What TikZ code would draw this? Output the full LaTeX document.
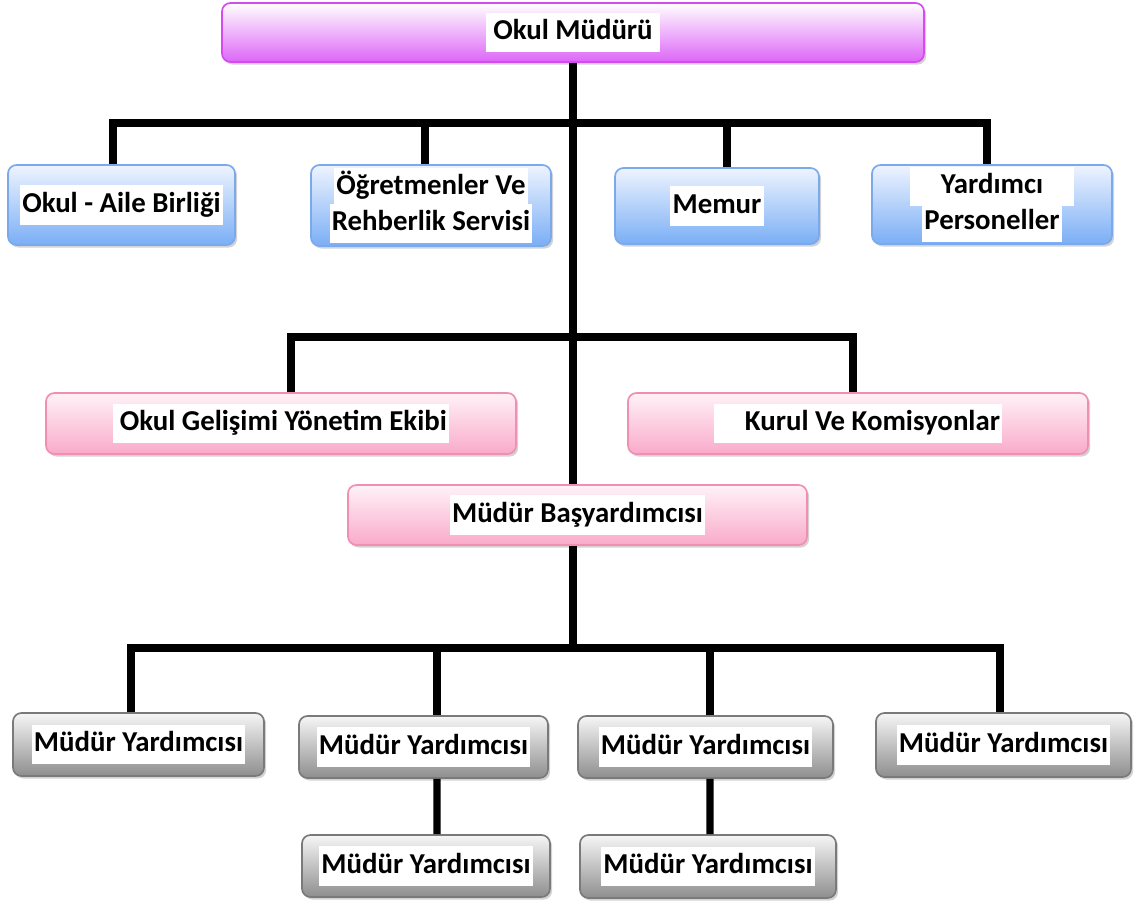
\documentclass[tikz,border=0pt]{standalone}
\usepackage{fontspec}
\setmainfont{Carlito}
\usetikzlibrary{shadows}
\definecolor{magfill}{HTML}{DD66F7}
\definecolor{magbd}{HTML}{D54BF0}
\definecolor{bluefill}{HTML}{7AAEF5}
\definecolor{bluetop}{HTML}{EEF4FF}
\definecolor{bluebd}{HTML}{7AA9EC}
\definecolor{pinkfill}{HTML}{F9AACA}
\definecolor{pinktop}{HTML}{FFF2F7}
\definecolor{pinkbd}{HTML}{F08FB2}
\definecolor{grayfill}{HTML}{8E8E8E}
\definecolor{graytop}{HTML}{F6F6F6}
\definecolor{graybd}{HTML}{7A7A7A}
\newcommand\wb[1]{{\setlength\fboxsep{1.5pt}\colorbox{white}{\strut #1}}}
\tikzset{
  base/.style={rounded corners=6pt, line width=1.2pt, align=center,
    font=\bfseries\fontsize{20.5}{25}\selectfont, inner sep=0pt,
    drop shadow={shadow xshift=1.5pt,shadow yshift=-1.8pt,opacity=0.35}},
  magbox/.style={base, draw=magbd, top color=white, bottom color=magfill},
  bluebox/.style={base, draw=bluebd, top color=bluetop, bottom color=bluefill},
  pinkbox/.style={base, draw=pinkbd, top color=pinktop, bottom color=pinkfill},
  graybox/.style={base, draw=graybd, top color=graytop, bottom color=grayfill},
  conn/.style={line width=5pt, black, line join=miter}
}
\begin{document}
\begin{tikzpicture}[x=0.025cm,y=-0.025cm]
\useasboundingbox (0,0) rectangle (1134,904);
% nodes
\node[magbox, minimum width={702*0.025cm}, minimum height={59*0.025cm}] (mudur) at (573,32.5) {\wb{\,Okul Müdürü\,}};
\node[bluebox, minimum width={227*0.025cm}, minimum height={80*0.025cm}] (oab) at (121.5,205) {\wb{Okul - Aile Birliği}};
\node[bluebox, minimum width={240*0.025cm}, minimum height={81*0.025cm}] (ors) at (431,205.5) {\wb{Öğretmenler Ve}\\[-3pt]\wb{Rehberlik Servisi}};
\node[bluebox, minimum width={204*0.025cm}, minimum height={76*0.025cm}] (memur) at (717,206) {\wb{Memur}};
\node[bluebox, minimum width={240*0.025cm}, minimum height={79*0.025cm}] (yp) at (992,204.5) {\wb{\quad Yardımcı\quad}\\[-3pt]\wb{Personeller}};
\node[pinkbox, minimum width={470*0.025cm}, minimum height={61*0.025cm}] (ogye) at (281,423.5) {\wb{\,Okul Gelişimi Yönetim Ekibi}};
\node[pinkbox, minimum width={460*0.025cm}, minimum height={61*0.025cm}] (kvk) at (858,423.5) {\wb{\quad Kurul Ve Komisyonlar}};
\node[pinkbox, minimum width={459*0.025cm}, minimum height={60*0.025cm}] (bas) at (577.5,515) {\wb{Müdür Başyardımcısı}};
\node[graybox, minimum width={251*0.025cm}, minimum height={63*0.025cm}] (my1) at (138.5,744.5) {\wb{Müdür Yardımcısı}};
\node[graybox, minimum width={249*0.025cm}, minimum height={62*0.025cm}] (my2) at (423.5,747) {\wb{Müdür Yardımcısı}};
\node[graybox, minimum width={255*0.025cm}, minimum height={62*0.025cm}] (my3) at (705.5,747) {\wb{Müdür Yardımcısı}};
\node[graybox, minimum width={255*0.025cm}, minimum height={64*0.025cm}] (my4) at (1003.5,745) {\wb{Müdür Yardımcısı}};
\node[graybox, minimum width={248*0.025cm}, minimum height={62*0.025cm}] (my5) at (426,866) {\wb{Müdür Yardımcısı}};
\node[graybox, minimum width={256*0.025cm}, minimum height={63*0.025cm}] (my6) at (708,866.5) {\wb{Müdür Yardımcısı}};
% connectors
\coordinate (busA) at (573,123);
\coordinate (busB) at (573,337);
\coordinate (busC) at (573,648);
\draw[conn] (mudur.south) -- (bas.north -| mudur.south);
\draw[conn] ([xshift={-8.5*0.025cm}]oab.north) |- (busA) -| ([xshift={-5*0.025cm}]yp.north);
\draw[conn] ([xshift={-6*0.025cm}]ors.north) -- ([xshift={-6*0.025cm}]ors.north |- busA);
\draw[conn] ([xshift={10*0.025cm}]memur.north) -- ([xshift={10*0.025cm}]memur.north |- busA);
\draw[conn] ([xshift={10*0.025cm}]ogye.north) |- (busB) -| ([xshift={-5*0.025cm}]kvk.north);
\draw[conn] (bas.south -| mudur.south) -- (busC);
\draw[conn] ([xshift={-7.5*0.025cm}]my1.north) |- (busC) -| ([xshift={-3.5*0.025cm}]my4.north);
\draw[conn] ([xshift={13.5*0.025cm}]my2.north) -- ([xshift={13.5*0.025cm}]my2.north |- busC);
\draw[conn] ([xshift={4.5*0.025cm}]my3.north) -- ([xshift={4.5*0.025cm}]my3.north |- busC);
\draw[conn] ([xshift={13.5*0.025cm}]my2.south) -- ([xshift={11*0.025cm}]my5.north);
\draw[conn] ([xshift={4.5*0.025cm}]my3.south) -- ([xshift={2*0.025cm}]my6.north);
\end{tikzpicture}
\end{document}
